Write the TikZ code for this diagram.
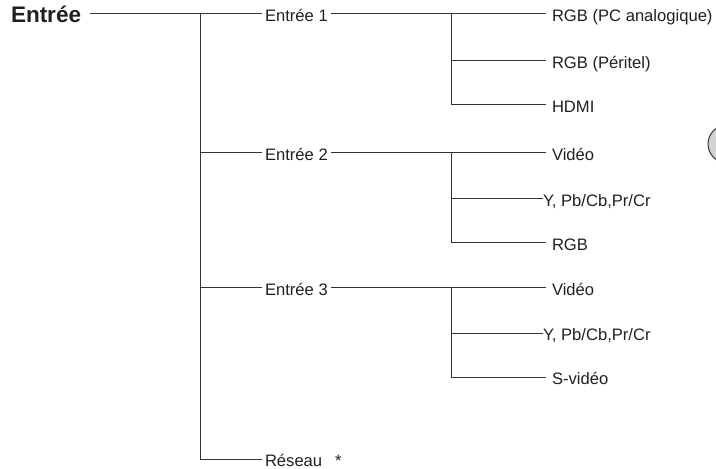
\documentclass[tikz,border=0pt]{standalone}
\usepackage{fontspec}
\setmainfont{Liberation Sans}
\usetikzlibrary{positioning}
\definecolor{trait}{HTML}{333333}
\definecolor{texte}{HTML}{231F20}
\newcommand{\sortie}[4]{%
  \node[leaf, #4] (#1) at (546,#2) {#3};%
}

\begin{document}
\begin{tikzpicture}[x=1bp, y=-1bp,
    lbl/.style={anchor=west, inner sep=0pt, outer xsep=3bp, text height=15bp,
      text depth=0pt, font=\fontsize{16.6bp}{20bp}\selectfont, text=texte},
    root/.style={lbl, outer xsep=9bp, text height=18bp,
      font=\fontsize{22.5bp}{26bp}\selectfont\bfseries},
    leaf/.style={lbl, outer xsep=6bp},
    trait/.style={draw=trait, line width=1bp}]
        \useasboundingbox (0,0) rectangle (716,469);
        \clip (0,0) rectangle (716,469);
        % niveau 1
        \node[root] (entree) at (2,14) {Entrée};
        \node[lbl] (e1) at (262,14) {Entrée 1};
        \node[lbl] (e2) at (262,153) {Entrée 2};
        \node[lbl] (e3) at (262,288) {Entrée 3};
        \node[lbl] (reseau) at (262,459) {Réseau\hspace{13bp}*};
        % niveau 2
        \sortie{e1a}{14}{RGB (PC analogique)}{}
        \sortie{e1b}{61}{RGB (Péritel)}{}
        \sortie{e1c}{105}{HDMI}{}
        \sortie{e2a}{153}{Vidéo}{}
        \sortie{e2b}{199}{Y, Pb/Cb,Pr/Cr}{outer xsep=0pt, xshift=-3bp}
        \sortie{e2c}{243}{RGB}{}
        \sortie{e3a}{288}{Vidéo}{}
        \sortie{e3b}{333}{Y, Pb/Cb,Pr/Cr}{outer xsep=0pt, xshift=-3bp}
        \sortie{e3c}{377}{S-vidéo}{}
        % traits
        \coordinate (b0) at (200,14);
        \draw[trait] (entree) -- (e1);
        \draw[trait] (b0) |- (reseau);
        \foreach \n in {e2,e3}
          \draw[trait] (b0 |- \n) -- (\n);
        \foreach \g/\y in {1/14,2/153,3/288} {
          \coordinate (b\g) at (451,\y);
          \draw[trait] (e\g) -- (e\g a);
          \draw[trait] (b\g) |- (e\g b);
          \draw[trait] (b\g) |- (e\g c);
        }
        \draw[trait, fill=gray!35] (727,144) circle[radius=19bp];
      \end{tikzpicture}
\end{document}
